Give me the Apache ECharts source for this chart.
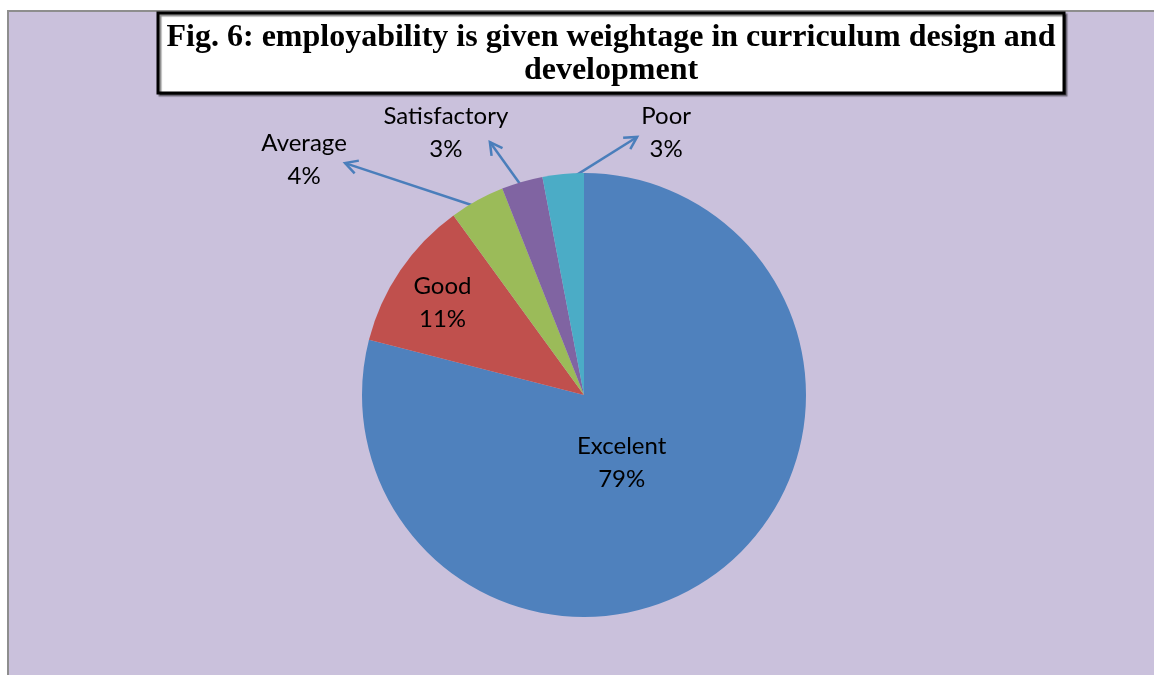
<!DOCTYPE html>
<html>
<head>
<meta charset="utf-8">
<script src="https://cdn.jsdelivr.net/npm/echarts@6/dist/echarts.min.js"></script>
<style>
html,body{margin:0;padding:0;background:#fff;}
#chart{width:1154px;height:675px;}
</style>
</head>
<body>
<div id="chart"></div>
<script>
// ---- data ----
const categories = ['Excelent', 'Good', 'Average', 'Satisfactory', 'Poor'];
const values = [79, 11, 4, 3, 3];
const titleLines = ['Fig. 6: employability is given weightage in curriculum design and', 'development'];

// ---- layout / style ----
const colors = ['#4F81BD', '#C0504D', '#9BBB59', '#8064A2', '#4BACC6'];
const cx = 584, cy = 395, R = 222;
// label placement in pie-relative polar coords (fraction of radius, degrees clockwise from top)
const labelPlace = [[0.35, 151], [0.76, 303], [1.646, 310], [1.334, 332.2], [1.237, 17.4]];
// arrow tip offset from label centre (for outside labels)
const arrowTipOffset = [null, null, [41, 3], [44, 9], [-29, 4]];
const arrowColor = '#4A7EBB';

function polar(frac, deg) {
  const a = deg * Math.PI / 180;
  return [cx + R * frac * Math.sin(a), cy - R * frac * Math.cos(a)];
}
const total = values.reduce((s, v) => s + v, 0);
const midAngles = [];
(function () { let acc = 0; values.forEach(v => { midAngles.push((acc + v / 2) / total * 360); acc += v; }); })();

function arrowPoints(i) {
  if (!arrowTipOffset[i]) return null;
  const lp = polar(labelPlace[i][0], labelPlace[i][1]);
  const start = polar(0.96, midAngles[i]);
  const end = [lp[0] + arrowTipOffset[i][0], lp[1] + arrowTipOffset[i][1]];
  return [start, end];
}

const graphics = [
  { type: 'rect', shape: { x: 0, y: 0, width: 1154, height: 10 }, style: { fill: '#ffffff' }, silent: true },
  { type: 'rect', shape: { x: 0, y: 0, width: 7, height: 675 }, style: { fill: '#ffffff' }, silent: true },
  { type: 'rect', shape: { x: 7, y: 10, width: 1147, height: 2 }, style: { fill: '#8E8E8E' }, silent: true },
  { type: 'rect', shape: { x: 7, y: 10, width: 2, height: 665 }, style: { fill: '#8E8E8E' }, silent: true },
  { type: 'rect', shape: { x: 158, y: 13, width: 906, height: 80 },
    style: { fill: '#ffffff', stroke: '#000000', lineWidth: 3, shadowColor: 'rgba(0,0,0,0.45)', shadowOffsetX: 2, shadowOffsetY: 2, shadowBlur: 1 }, silent: true },
  { type: 'text', x: 611, y: 54,
    style: { text: titleLines.join('\n'), align: 'center', verticalAlign: 'middle', fill: '#000',
      font: 'bold 32px "Liberation Serif", "Times New Roman", serif', lineHeight: 33 }, silent: true }
];
// arrowheads
values.forEach((v, i) => {
  const pts = arrowPoints(i);
  if (!pts) return;
  const [s, e] = pts;
  const ang = Math.atan2(e[1] - s[1], e[0] - s[0]);
  const L = 14, spread = 0.5;
  const p1 = [e[0] - L * Math.cos(ang - spread), e[1] - L * Math.sin(ang - spread)];
  const p2 = [e[0] - L * Math.cos(ang + spread), e[1] - L * Math.sin(ang + spread)];
  graphics.push({ type: 'polyline', shape: { points: [p1, e, p2] },
    style: { stroke: arrowColor, lineWidth: 2.5, fill: null }, silent: true, z: 10 });
});

const chart = echarts.init(document.getElementById('chart'), null, { renderer: 'canvas' });
chart.setOption({
  backgroundColor: '#CAC1DC',
  animation: false,
  graphic: graphics,
  series: [{
    type: 'pie',
    center: [cx, cy],
    radius: R,
    startAngle: 90,
    clockwise: true,
    avoidLabelOverlap: false,
    data: categories.map((c, i) => ({
      name: c, value: values[i],
      itemStyle: { color: colors[i] },
      label: { position: i < 2 ? 'inside' : 'outside' },
      labelLine: { show: i >= 2 }
    })),
    label: {
      show: true,
      formatter: '{b}\n{d}%',
      color: '#000',
      fontFamily: 'Lato, "Open Sans", sans-serif',
      fontSize: 24,
      lineHeight: 33,
      align: 'center'
    },
    labelLine: { show: true, lineStyle: { color: arrowColor, width: 2.5 } },
    labelLayout: function (params) {
      const i = params.dataIndex;
      const p = polar(labelPlace[i][0], labelPlace[i][1]);
      const out = { x: p[0], y: p[1], align: 'center', verticalAlign: 'middle' };
      const pts = arrowPoints(i);
      if (pts) out.labelLinePoints = [pts[0], pts[1], pts[1]];
      return out;
    },
    emphasis: { disabled: true }
  }]
});
</script>
</body>
</html>
